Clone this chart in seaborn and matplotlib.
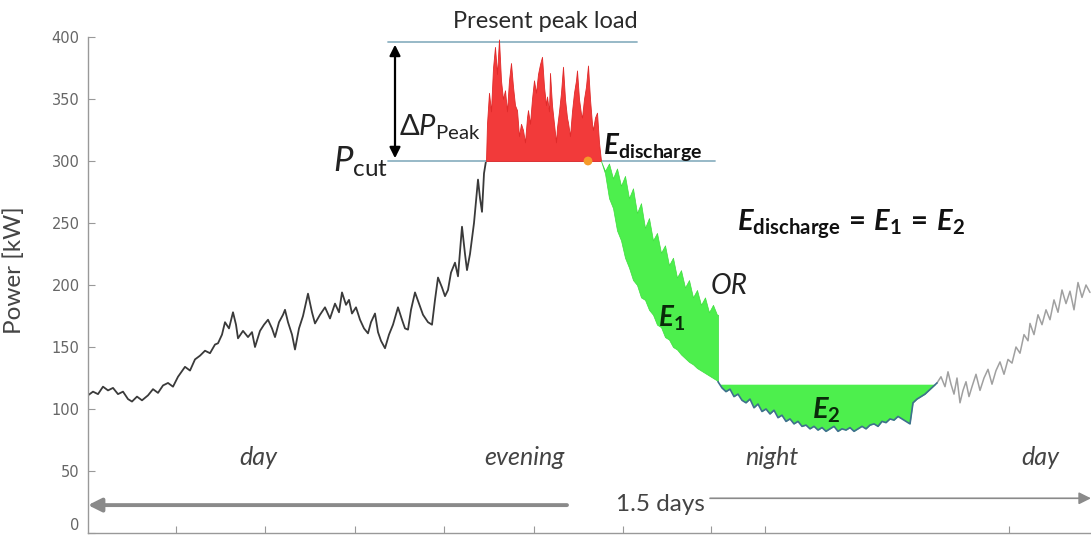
import numpy as np
import pandas as pd
import matplotlib
matplotlib.use("Agg")
import matplotlib.pyplot as plt
import seaborn as sns

# ---------------- data (time = sample index, ~2.15 min per sample, 1.5 days) ----------------
t_day = [0, 5, 10, 15, 20, 25, 30, 35, 40, 44, 49, 54, 60, 65, 70, 75, 80, 85, 90, 97,
         102, 107, 112, 117, 122, 127, 130, 134, 137, 141, 145, 148, 150, 155, 160, 164, 167, 172, 176, 180,
         184, 187, 191, 195, 197, 200, 204, 207, 211, 215, 220, 224, 227, 232, 237, 242, 247, 251, 254, 258,
         261, 264, 268, 272, 276, 280, 283, 287, 290, 293, 297, 301, 305, 310, 314, 317, 320, 323, 327, 331,
         335, 340, 344, 347, 350, 354, 357, 360, 363, 367, 370, 374, 377, 379, 382, 386, 390, 392, 394, 396, 398]
p_day = [111, 114, 112, 118, 115, 117, 112, 114, 108, 106, 110, 107, 111, 116, 113, 119, 121, 118, 126, 134,
         131, 140, 143, 147, 145, 152, 153, 160, 170, 165, 178, 168, 157, 163, 158, 162, 150, 163, 168, 172,
         165, 158, 170, 176, 180, 170, 160, 148, 165, 175, 193, 178, 169, 176, 182, 173, 185, 178, 194, 184,
         188, 177, 182, 172, 165, 161, 170, 177, 162, 155, 149, 160, 168, 182, 172, 165, 164, 180, 194, 185,
         176, 170, 168, 188, 206, 198, 191, 196, 210, 218, 207, 247, 225, 212, 225, 250, 285, 270, 259, 290, 300]

t_peak = [398, 399, 401, 403, 405, 407, 409, 411, 413, 415, 417, 419, 421, 423, 425, 427, 429, 431, 433, 435,
          437, 439, 440, 442, 444, 446, 448, 450, 452, 454, 456, 458, 459, 461, 462, 464, 466, 468, 469, 471,
          473, 475, 477, 479, 480, 482, 484, 486, 488, 489, 491, 493, 494, 496, 498, 500, 502, 504, 505, 507,
          509, 511, 513]
p_peak = [300, 330, 355, 340, 375, 392, 370, 398, 365, 350, 357, 340, 365, 379, 360, 345, 341, 320, 330, 325,
          315, 335, 341, 330, 350, 365, 355, 370, 378, 384, 360, 345, 352, 340, 371, 345, 330, 315, 327, 340,
          355, 376, 350, 335, 331, 320, 340, 355, 365, 373, 350, 338, 335, 350, 360, 377, 350, 330, 325, 335,
          339, 315, 300]
p_cut = 300
p_present_peak = 396

t_e1 = [513, 517, 521, 525, 529, 533, 537, 541, 545, 549, 553, 557, 561, 565, 569, 573, 577, 581, 585, 589,
        593, 597, 601, 605, 609, 613, 617, 621, 625, 629, 630]
p_e1_upper = [300, 292, 298, 286, 294, 280, 288, 270, 278, 258, 266, 246, 254, 236, 242, 226, 232, 216, 222, 206,
              212, 198, 204, 190, 196, 184, 190, 178, 184, 176, 176]
p_e1_lower = [300, 290, 270, 262, 244, 236, 222, 214, 204, 200, 190, 188, 180, 176, 168, 166, 158, 156, 150, 148,
              144, 141, 138, 136, 133, 131, 129, 127, 125, 123, 122]

t_night = [630, 634, 638, 642, 646, 650, 654, 658, 662, 666, 670, 674, 678, 682, 686, 690, 694, 698, 702, 706,
           710, 714, 718, 722, 726, 730, 734, 738, 742, 746, 750, 754, 758, 762, 766, 770, 774, 778, 782, 786,
           790, 794, 798, 802, 806, 810, 814, 818, 822, 825, 829, 833, 837, 841, 845, 849]
p_night = [122, 117, 114, 116, 110, 112, 107, 105, 108, 101, 104, 98, 100, 96, 99, 93, 95, 90, 92, 88,
           90, 86, 87, 84, 86, 83, 85, 82, 84, 86, 82, 84, 83, 85, 82, 84, 86, 84, 87, 88,
           86, 90, 89, 92, 91, 94, 92, 90, 88, 105, 108, 110, 112, 115, 118, 121]
p_e2_level = 120

t_day2 = [849, 853, 857, 860, 863, 866, 869, 872, 875, 878, 881, 884, 888, 892, 896, 900, 904, 908, 912, 916,
          920, 924, 928, 932, 936, 940, 942, 946, 950, 954, 958, 962, 966, 970, 974, 978, 982, 986, 990, 994,
          998, 1002]
p_day2 = [121, 126, 118, 130, 120, 112, 125, 105, 115, 122, 110, 118, 128, 115, 125, 132, 120, 131, 138, 128,
          140, 137, 150, 145, 160, 155, 169, 160, 176, 168, 180, 172, 188, 178, 196, 185, 195, 180, 202, 190,
          200, 194]

y_ticks = [0, 50, 100, 150, 200, 250, 300, 350, 400]
x_ticks = [88, 177, 267, 356, 446, 535, 623, 677, 921]
period_labels = ["day", "evening", "night", "day"]
period_pos = [170, 436, 684, 952]

# ---------------- style ----------------
sns.set_theme(style="white")
plt.rcParams['font.family'] = ['Lato', 'DejaVu Sans']
plt.rcParams['mathtext.fontset'] = 'custom'
plt.rcParams['mathtext.rm'] = 'Lato'
plt.rcParams['mathtext.it'] = 'Lato:italic'
plt.rcParams['mathtext.bf'] = 'Lato:bold'
plt.rcParams['mathtext.bfit'] = 'Lato:italic:bold'

fig = plt.figure(figsize=(10.91, 5.36), dpi=100)
ax = fig.add_axes([88 / 1091, 3 / 536, 1003 / 1091, 496 / 536])

green = "#4def4d"
red = "#f23a3a"
hline_c = "#8fb3c3"

df_day = pd.DataFrame({"t": t_day, "p": p_day})
df_night = pd.DataFrame({"t": t_night, "p": p_night})
df_day2 = pd.DataFrame({"t": t_day2, "p": p_day2})

sns.lineplot(data=df_day, x="t", y="p", ax=ax, color="#3a3a3a", lw=1.3, sort=False, estimator=None)
ax.fill_between(t_peak, p_cut, p_peak, color=red, lw=0.6, edgecolor="#e02a2a", zorder=3)
ax.fill_between(t_e1, p_e1_lower, p_e1_upper, color=green, lw=0.5, edgecolor="#3fdc3f", zorder=3)
p_night_arr = np.array(p_night)
ax.fill_between(t_night, p_night, p_e2_level, where=p_night_arr <= p_e2_level, interpolate=True,
                color=green, lw=0, zorder=2)
sns.lineplot(data=df_night, x="t", y="p", ax=ax, color="#3f6f8f", lw=1.2, sort=False, estimator=None, zorder=4)
sns.lineplot(data=df_day2, x="t", y="p", ax=ax, color="#a0a0a0", lw=1.1, sort=False, estimator=None)

ax.scatter([500], [p_cut], s=40, color="#f59a2a", zorder=5, edgecolor="none")

# reference lines
ax.plot([300, 549], [p_present_peak, p_present_peak], color=hline_c, lw=1.3, zorder=2)
ax.plot([300, 627], [p_cut, p_cut], color=hline_c, lw=1.3, zorder=2)
ax.annotate("", xy=(307, p_present_peak), xytext=(307, p_cut),
            arrowprops=dict(arrowstyle="<|-|>", color="black", lw=1.6, mutation_scale=16))

# annotations
ax.text(457, 404, "Present peak load", ha="center", va="bottom", fontsize=17, color="#2a2a2a")
ax.text(311, 327, r"$\Delta P_{\mathrm{Peak}}$", ha="left", va="center", fontsize=21, color="#222222")
ax.text(300, 299, r"$P_{\mathrm{cut}}$", ha="right", va="center", fontsize=25, color="#222222")
ax.text(515, 311, r"$\mathbfit{E}_{\mathbf{discharge}}$", ha="left", va="center", fontsize=20, color="#111111")
ax.text(763, 249, r"$\mathbfit{E}_{\mathbf{discharge}}\,\mathbf{=}\,\mathbfit{E}_{\mathbf{1}}\,\mathbf{=}\,\mathbfit{E}_{\mathbf{2}}$",
        ha="center", va="center", fontsize=21, color="#111111")
ax.text(641, 199, "OR", ha="center", va="center", fontsize=20, style="italic", color="#222222")
ax.text(584, 173, r"$\mathbfit{E}_{\mathbf{1}}$", ha="center", va="center", fontsize=20, color="#0a2a0a")
ax.text(738, 99, r"$\mathbfit{E}_{\mathbf{2}}$", ha="center", va="center", fontsize=21, color="#0a2a0a")

for lab, pos in zip(period_labels, period_pos):
    ax.text(pos, 61, lab, ha="center", va="center", fontsize=18, style="italic", color="#444444")

ax.annotate("", xy=(0, 22.5), xytext=(479, 22.5),
            arrowprops=dict(arrowstyle="-|>", color="#8a8a8a", lw=2.8, mutation_scale=20, shrinkA=0, shrinkB=0))
ax.annotate("", xy=(1003, 28), xytext=(622, 28),
            arrowprops=dict(arrowstyle="-|>", color="#8a8a8a", lw=1.2, mutation_scale=18, shrinkA=0, shrinkB=0))
ax.text(572, 23, "1.5 days", ha="center", va="center", fontsize=17.5, color="#444444")

# axes
ax.set_xlim(0, 1003)
ax.set_ylim(0, 400)
ax.set_yticks(y_ticks)
ax.set_yticklabels([str(v) for v in y_ticks], fontsize=10.5, color="#666666", family="DejaVu Sans")
# keep the "0" label inside the figure (it sits right at the bottom edge)
ax.get_yticklabels()[0].set_verticalalignment("bottom")
ax.set_xticks(x_ticks)
ax.set_xticklabels([])
ax.tick_params(axis="both", direction="in", length=5, width=0.8, color="#999999", left=True, bottom=True,
               pad=6)
ax.set_xlabel("")
ax.set_ylabel("Power [kW]", fontsize=17.5, color="#444444")
ax.yaxis.set_label_coords(-0.063, 0.53)
for s in ["top", "right"]:
    ax.spines[s].set_visible(False)
for s in ["left", "bottom"]:
    ax.spines[s].set_color("#999999")
    ax.spines[s].set_linewidth(1.0)

fig.savefig("out.png", dpi=100)
